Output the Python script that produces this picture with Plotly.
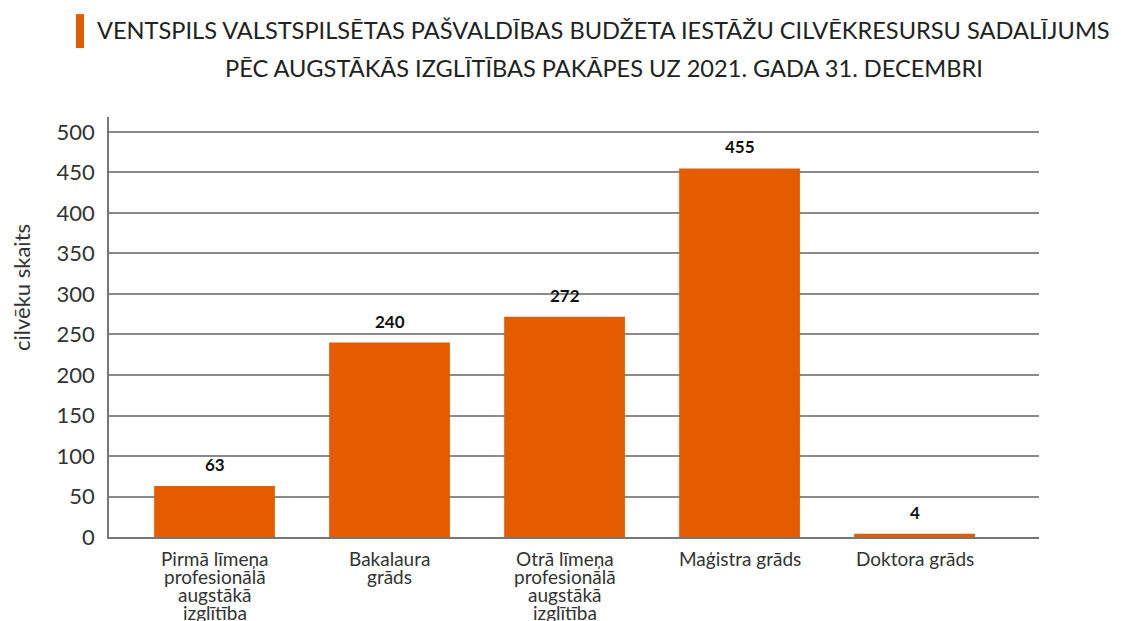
import plotly.graph_objects as go

categories = [
    "Pirmā līmeņa<br>profesionālā<br>augstākā<br>izglītība",
    "Bakalaura<br>grāds",
    "Otrā līmeņa<br>profesionālā<br>augstākā<br>izglītība",
    "Maģistra grāds",
    "Doktora grāds",
]
values = [63, 240, 272, 455, 4]
y_ticks = [0, 50, 100, 150, 200, 250, 300, 350, 400, 450, 500]

title_line1 = "VENTSPILS VALSTSPILSĒTAS PAŠVALDĪBAS BUDŽETA IESTĀŽU CILVĒKRESURSU SADALĪJUMS"
title_line2 = "PĒC AUGSTĀKĀS IZGLĪTĪBAS PAKĀPES UZ 2021. GADA 31. DECEMBRI"
y_title = "cilvēku skaits"

ORANGE = "#E55C00"
FONT = "Lato, 'Open Sans', sans-serif"

x_idx = list(range(len(categories)))

fig = go.Figure(
    go.Bar(
        x=x_idx,
        y=values,
        width=0.69,
        marker=dict(color=ORANGE, line=dict(width=0)),
        hoverinfo="skip",
    )
)

fig.update_layout(
    width=1113,
    height=613,
    margin=dict(l=101, r=82, t=109, b=84, autoexpand=False),
    paper_bgcolor="white",
    plot_bgcolor="white",
    showlegend=False,
    font=dict(family=FONT, color="#333"),
    xaxis=dict(
        range=[-0.603, 4.711],
        tickmode="array",
        tickvals=x_idx,
        ticktext=[""] * len(categories),
        showgrid=False,
        showline=True,
        linecolor="#777",
        linewidth=1.5,
        ticks="",
        zeroline=False,
        automargin=False,
    ),
    yaxis=dict(
        range=[0, 518.5],
        tickmode="array",
        tickvals=y_ticks,
        ticktext=[str(t) for t in y_ticks],
        tickfont=dict(family=FONT, size=22, color="#333"),
        showgrid=True,
        gridcolor="#8a8a8a",
        gridwidth=1.5,
        showline=True,
        linecolor="#777",
        linewidth=1.5,
        ticks="",
        ticklabelstandoff=8,
        zeroline=False,
        automargin=False,
    ),
)

# category labels with tight line spacing
for i, cat in enumerate(categories):
    for j, line in enumerate(cat.split("<br>")):
        fig.add_annotation(
            text=line, x=i, y=0, xref="x", yref="y",
            xanchor="center", yanchor="top", yshift=-8 - 18 * j,
            showarrow=False,
            font=dict(family=FONT, size=19, color="#333"),
        )

# value labels
for i, v in enumerate(values):
    fig.add_annotation(
        text=f"<b>{v}</b>", x=i, y=v, xref="x", yref="y",
        xanchor="center", yanchor="bottom", yshift=9,
        showarrow=False,
        font=dict(family=FONT, size=17, color="#111"),
    )

fig.add_annotation(
    text=title_line1, xref="paper", yref="paper", x=0.532, y=1.207,
    xanchor="center", yanchor="middle", showarrow=False,
    font=dict(family=FONT, size=23.6, color="#222"),
)
fig.add_annotation(
    text=title_line2, xref="paper", yref="paper", x=0.532, y=1.117,
    xanchor="center", yanchor="middle", showarrow=False,
    font=dict(family=FONT, size=23.6, color="#222"),
)
fig.add_annotation(
    text=y_title, xref="paper", yref="paper", x=-0.0935, y=0.593,
    xanchor="center", yanchor="middle", showarrow=False, textangle=-90,
    font=dict(family=FONT, size=22, color="#333"),
)
fig.add_shape(
    type="rect", xref="paper", yref="paper",
    x0=-0.0355, x1=-0.0269, y0=1.164, y1=1.245,
    fillcolor=ORANGE, line=dict(width=0),
)

fig.write_html("out.html")
